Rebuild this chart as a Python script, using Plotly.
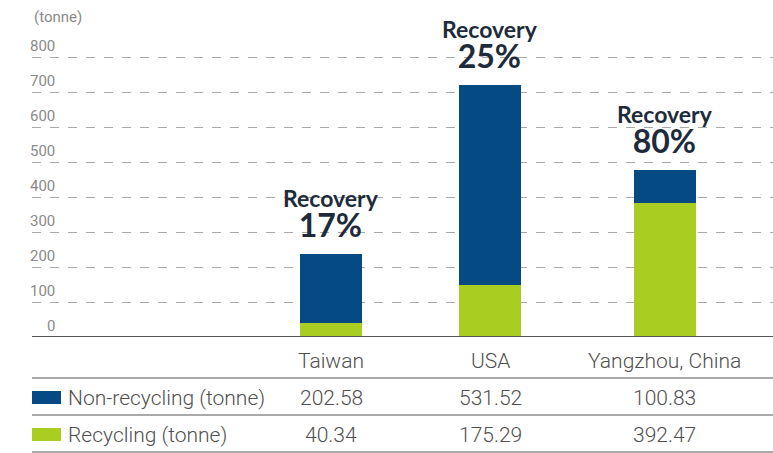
import plotly.graph_objects as go

# table values
regions = ['Taiwan', 'USA', 'Yangzhou, China']
non_recycling = [202.58, 531.52, 100.83]
recycling = [40.34, 175.29, 392.47]

# bar heights as drawn in the picture (tonne)
bar_recycling = [40, 148, 383]
bar_non_recycling = [197, 572, 94]

tick_vals = [0, 100, 200, 300, 400, 500, 600, 700, 800]

# column positions on the x axis (the gaps in the picture are not even)
col_pos = [0, 1, 2.1]

BLUE = '#064a84'
GREEN = '#aacd22'
NAVY = '#1e2b3b'
FONT = 'Roboto'

W, H = 773, 453
PLOT_H = 337          # pixel y of the baseline (top margin is 0)
PX_PER_UNIT = 0.35    # pixels per tonne
X0 = 32               # left edge of plot area


def py(pix):
    # pixel y -> paper y
    return (PLOT_H - pix) / PLOT_H


def px(pix):
    return (pix - X0) / (W - X0)


unit = 490 - 331      # pixels per x unit
bar_w = 62 / unit

fig = go.Figure()
fig.add_trace(go.Bar(x=col_pos, y=bar_recycling, name='Recycling (tonne)',
                     marker=dict(color=GREEN, line=dict(width=0)), width=bar_w))
fig.add_trace(go.Bar(x=col_pos, y=bar_non_recycling, name='Non-recycling (tonne)',
                     marker=dict(color=BLUE, line=dict(width=0)), width=bar_w))

annotations = []
shapes = []

# tick labels, sitting above the dashed gridlines
tick_font = dict(family=FONT, size=15, color='#8a8a8a')
for v in tick_vals:
    annotations.append(dict(x=0, xref='paper', y=v, yref='y', text=str(v),
                            xanchor='right', yanchor='middle', xshift=25, yshift=11,
                            showarrow=False, font=tick_font))
annotations.append(dict(x=0, xref='paper', y=py(17), yref='paper', text='(tonne)',
                        xanchor='left', yanchor='middle', showarrow=False, font=tick_font))

# recovery labels above each bar
for i, xp in enumerate(col_pos):
    top = bar_recycling[i] + bar_non_recycling[i]
    pct = round(recycling[i] / (recycling[i] + non_recycling[i]) * 100)
    annotations.append(dict(
        x=xp, y=top, showarrow=False, yanchor='bottom', yshift=8,
        text=f'<b>Recovery</b><br><b><span style="font-size:32px">{pct}%</span></b>',
        font=dict(family='Lato', size=23, color=NAVY)))

# table below the chart
table_font = dict(family=FONT, size=21, color='#505050', weight=300)
for i, xp in enumerate(col_pos):
    annotations.append(dict(x=xp, y=py(361), yref='paper', text=regions[i], showarrow=False,
                            yanchor='middle', font=table_font))
    annotations.append(dict(x=xp, y=py(398), yref='paper', text=f'{non_recycling[i]:.2f}',
                            showarrow=False, yanchor='middle', font=table_font))
    annotations.append(dict(x=xp, y=py(435), yref='paper', text=f'{recycling[i]:.2f}',
                            showarrow=False, yanchor='middle', font=table_font))

annotations.append(dict(x=px(66), xref='paper', y=py(398), yref='paper',
                        text='Non-recycling (tonne)', showarrow=False,
                        xanchor='left', yanchor='middle', font=table_font))
annotations.append(dict(x=px(66), xref='paper', y=py(435), yref='paper',
                        text='Recycling (tonne)', showarrow=False,
                        xanchor='left', yanchor='middle', font=table_font))

shapes.append(dict(type='rect', xref='paper', yref='paper',
                   x0=px(32), x1=px(61), y0=py(404), y1=py(391),
                   fillcolor=BLUE, line=dict(width=0)))
shapes.append(dict(type='rect', xref='paper', yref='paper',
                   x0=px(32), x1=px(61), y0=py(441), y1=py(428),
                   fillcolor=GREEN, line=dict(width=0)))

for ly in [378, 415, 452]:
    shapes.append(dict(type='line', xref='paper', yref='paper', x0=0, x1=1,
                       y0=py(ly), y1=py(ly), line=dict(color='#8c8c8c', width=1.5)))

# baseline
shapes.append(dict(type='line', xref='paper', yref='y', x0=0, x1=1, y0=0, y1=0,
                   line=dict(color='#555555', width=2)))

x_min = -(331 - X0) / unit
x_max = x_min + (W - X0) / unit

fig.update_layout(
    width=W, height=H,
    margin=dict(l=X0, r=0, t=0, b=H - PLOT_H),
    barmode='stack',
    showlegend=False,
    plot_bgcolor='white',
    paper_bgcolor='white',
    xaxis=dict(range=[x_min, x_max], showticklabels=False, showgrid=False,
               zeroline=False, showline=False, ticks=''),
    yaxis=dict(range=[0, PLOT_H / PX_PER_UNIT], tickvals=tick_vals[1:],
               showticklabels=False, showgrid=True, gridcolor='#a8a8a8',
               griddash='dash', gridwidth=1, zeroline=False, showline=False),
    annotations=annotations,
    shapes=shapes,
)

fig.write_html("out.html", config={'displayModeBar': False},
               post_script="document.body.style.margin='0';")
